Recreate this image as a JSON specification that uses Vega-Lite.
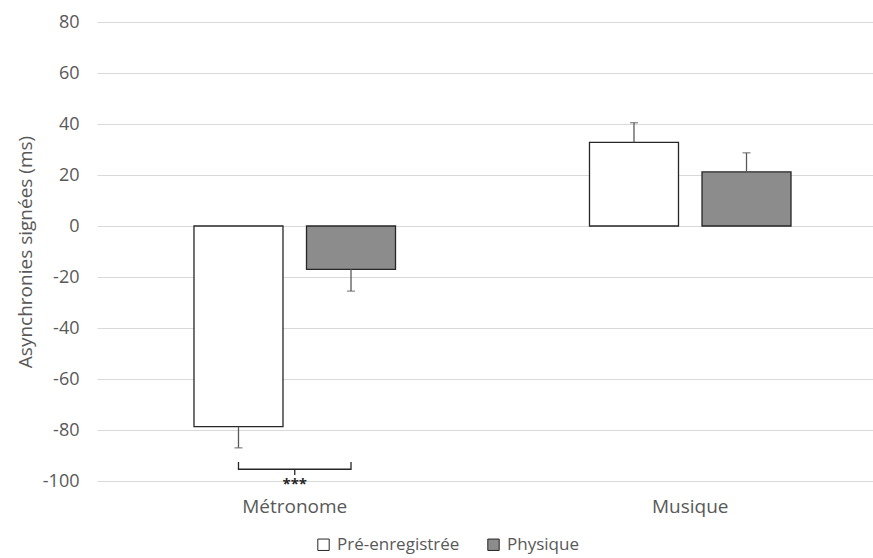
{
  "$schema": "https://vega.github.io/schema/vega-lite/v6.json",
  "width": 776,
  "height": 459,
  "autosize": {"type": "none"},
  "padding": {"left": 97, "top": 22, "right": 0, "bottom": 77},
  "background": "white",
  "config": {
    "view": {"stroke": null},
    "font": "Open Sans",
    "axis": {"labelFont": "Open Sans", "titleFont": "Open Sans", "labelColor": "#595959", "titleColor": "#595959", "ticks": false, "domain": false},
    "axisY": {"grid": true, "gridColor": "#d9d9d9", "gridWidth": 1, "labelFontSize": 18, "labelPadding": 18, "titleFontSize": 19, "titleFontWeight": "normal"},
    "axisX": {"grid": false, "labelFontSize": 19, "labelPadding": 16, "labelAngle": 0}
  },
  "datasets": {
    "bars": [
      {"condition": "Métronome", "source": "Pré-enregistrée", "mean": -78.7, "errEnd": -87},
      {"condition": "Métronome", "source": "Physique", "mean": -17, "errEnd": -25.5},
      {"condition": "Musique", "source": "Pré-enregistrée", "mean": 32.8, "errEnd": 40.5},
      {"condition": "Musique", "source": "Physique", "mean": 21.2, "errEnd": 28.7}
    ],
    "bracket": [
      {"condition": "Métronome", "source": "Pré-enregistrée", "y": -92.5, "order": 1},
      {"condition": "Métronome", "source": "Pré-enregistrée", "y": -95.4, "order": 2},
      {"condition": "Métronome", "source": "Physique", "y": -95.4, "order": 3},
      {"condition": "Métronome", "source": "Physique", "y": -92.5, "order": 4}
    ],
    "signif": [
      {"condition": "Métronome", "label": "***", "y": -101.2, "yTick": -95.4, "yTick2": -97.6}
    ]
  },
  "encoding": {
    "x": {
      "field": "condition",
      "type": "nominal",
      "scale": {"domain": ["Métronome", "Musique"], "range": [0, 791], "paddingInner": 0, "paddingOuter": 0},
      "axis": {"title": null}
    }
  },
  "layer": [
    {
      "data": {"name": "bars"},
      "mark": {"type": "bar", "stroke": "#262626", "strokeWidth": 1.3},
      "encoding": {
        "xOffset": {"field": "source", "type": "nominal", "scale": {"domain": ["Pré-enregistrée", "Physique"], "paddingInner": 0.209, "paddingOuter": 0.862}},
        "y": {
          "field": "mean",
          "type": "quantitative",
          "scale": {"domain": [-100, 80], "nice": false, "zero": true},
          "axis": {"title": "Asynchronies signées (ms)", "values": [-100, -80, -60, -40, -20, 0, 20, 40, 60, 80], "labelExpr": "replace(datum.label, '\u2212', '-')", "titleX": -72, "titleY": 229.5, "titleAngle": -90, "titleAlign": "center", "titleBaseline": "middle"}
        },
        "fill": {
          "field": "source",
          "type": "nominal",
          "scale": {"domain": ["Pré-enregistrée", "Physique"], "range": ["#ffffff", "#8c8c8c"]},
          "legend": {
            "title": null,
            "orient": "none",
            "legendX": 218,
            "legendY": 514,
            "direction": "horizontal",
            "padding": 0,
            "symbolType": "square",
            "symbolSize": 130,
            "symbolStrokeWidth": 1,
            "labelFont": "Open Sans",
            "labelFontSize": 17,
            "labelColor": "#595959",
            "labelOffset": 5,
            "columnPadding": 25,
            "encode": {
              "symbols": {
                "update": {
                  "stroke": [{"test": "datum.value === 'Physique'", "value": "#8c8c8c"}, {"value": "#262626"}],
                  "strokeWidth": {"value": 1}
                }
              }
            }
          }
        }
      }
    },
    {
      "data": {"name": "bars"},
      "mark": {"type": "rule", "color": "#595959", "strokeWidth": 1.3},
      "encoding": {
        "xOffset": {"field": "source", "type": "nominal"},
        "y": {"field": "mean", "type": "quantitative"},
        "y2": {"field": "errEnd"}
      }
    },
    {
      "data": {"name": "bars"},
      "mark": {"type": "tick", "orient": "horizontal", "color": "#595959", "size": 8, "thickness": 1.3},
      "encoding": {
        "xOffset": {"field": "source", "type": "nominal"},
        "y": {"field": "errEnd", "type": "quantitative"}
      }
    },
    {
      "data": {"name": "bracket"},
      "mark": {"type": "line", "color": "#262626", "strokeWidth": 1.3},
      "encoding": {
        "xOffset": {"field": "source", "type": "nominal"},
        "y": {"field": "y", "type": "quantitative"},
        "order": {"field": "order", "type": "quantitative"}
      }
    },
    {
      "data": {"name": "signif"},
      "mark": {"type": "rule", "color": "#262626", "strokeWidth": 1.3},
      "encoding": {
        "y": {"field": "yTick", "type": "quantitative"},
        "y2": {"field": "yTick2"}
      }
    },
    {
      "data": {"name": "signif"},
      "mark": {"type": "text", "color": "#262626", "fontSize": 15, "fontWeight": "bold", "baseline": "middle", "font": "Open Sans"},
      "encoding": {
        "y": {"field": "y", "type": "quantitative"},
        "text": {"field": "label", "type": "nominal"}
      }
    }
  ]
}
